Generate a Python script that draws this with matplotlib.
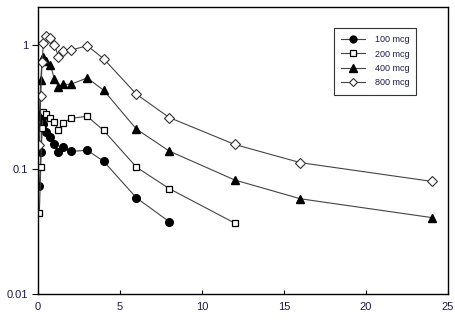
import matplotlib.pyplot as plt

plt.rcParams["font.family"] = ["Liberation Sans", "DejaVu Sans"]
plt.rcParams["font.size"] = 8

# Concentration (log scale) against time in hours for each dose
t_100 = [0.083, 0.167, 0.25, 0.33, 0.5, 0.75, 1, 1.25, 1.5, 2, 3, 4, 6, 8]
c_100 = [0.073, 0.137, 0.26, 0.23, 0.20, 0.18, 0.16, 0.137, 0.15, 0.139, 0.142, 0.116, 0.059, 0.038]

t_200 = [0.083, 0.167, 0.25, 0.33, 0.5, 0.75, 1, 1.25, 1.5, 2, 3, 4, 6, 8, 12]
c_200 = [0.045, 0.104, 0.213, 0.29, 0.28, 0.26, 0.24, 0.205, 0.233, 0.256, 0.266, 0.205, 0.104, 0.070, 0.037]

t_400 = [0.083, 0.167, 0.25, 0.33, 0.5, 0.75, 1, 1.25, 1.5, 2, 3, 4, 6, 8, 12, 16, 24]
c_400 = [0.27, 0.52, 0.76, 0.80, 0.74, 0.69, 0.53, 0.46, 0.48, 0.48, 0.54, 0.43, 0.21, 0.14, 0.082, 0.058, 0.041]

t_800 = [0.083, 0.167, 0.25, 0.33, 0.5, 0.75, 1, 1.25, 1.5, 2, 3, 4, 6, 8, 12, 16, 24]
c_800 = [0.156, 0.385, 0.73, 1.03, 1.17, 1.12, 1.0, 0.80, 0.89, 0.90, 0.98, 0.77, 0.40, 0.26, 0.158, 0.113, 0.080]

labels = ["100 mcg", "200 mcg", "400 mcg", "800 mcg"]

fig = plt.figure(figsize=(4.56, 3.29), dpi=100)
ax = fig.add_axes([38 / 456, 35 / 329, 410 / 456, 287 / 329])

line_kw = dict(color="#444444", linewidth=0.8)
ax.plot(t_100, c_100, marker="o", markersize=5.5, markerfacecolor="black",
        markeredgecolor="black", label=labels[0], **line_kw)
ax.plot(t_200, c_200, marker="s", markersize=5, markerfacecolor="white",
        markeredgecolor="black", markeredgewidth=0.9, label=labels[1], **line_kw)
ax.plot(t_400, c_400, marker="^", markersize=6, markerfacecolor="black",
        markeredgecolor="black", label=labels[2], **line_kw)
ax.plot(t_800, c_800, marker="D", markersize=5, markerfacecolor="white",
        markeredgecolor="#333333", markeredgewidth=0.8, label=labels[3], **line_kw)

ax.set_yscale("log")
ax.set_ylim(0.01, 2)
ax.set_xlim(0, 25)
ax.set_xticks([0, 5, 10, 15, 20, 25])
ax.set_yticks([0.01, 0.1, 1])
ax.set_yticklabels(["0.01", "0.1", "1"])
ax.minorticks_off()
ax.tick_params(axis="y", direction="out", length=4, width=0.8, colors="black",
               labelcolor="#1c1c48", pad=3)
ax.tick_params(axis="x", direction="in", length=3, width=0.8, colors="black",
               labelcolor="#1c1c48", pad=6)
for s in ax.spines.values():
    s.set_linewidth(1.0)

leg = ax.legend(loc="upper left", bbox_to_anchor=(334 / 456, 1 - 28 / 329),
                bbox_transform=fig.transFigure, frameon=True, fancybox=False,
                handlelength=2.6, borderpad=0.8, labelspacing=0.6,
                handletextpad=1.1, fontsize=6.5, borderaxespad=0,
                markerscale=0.9)
leg.get_frame().set_edgecolor("black")
leg.get_frame().set_linewidth(0.8)
for txt in leg.get_texts():
    txt.set_color("#1c1c48")

fig.savefig("out.png", dpi=100)
